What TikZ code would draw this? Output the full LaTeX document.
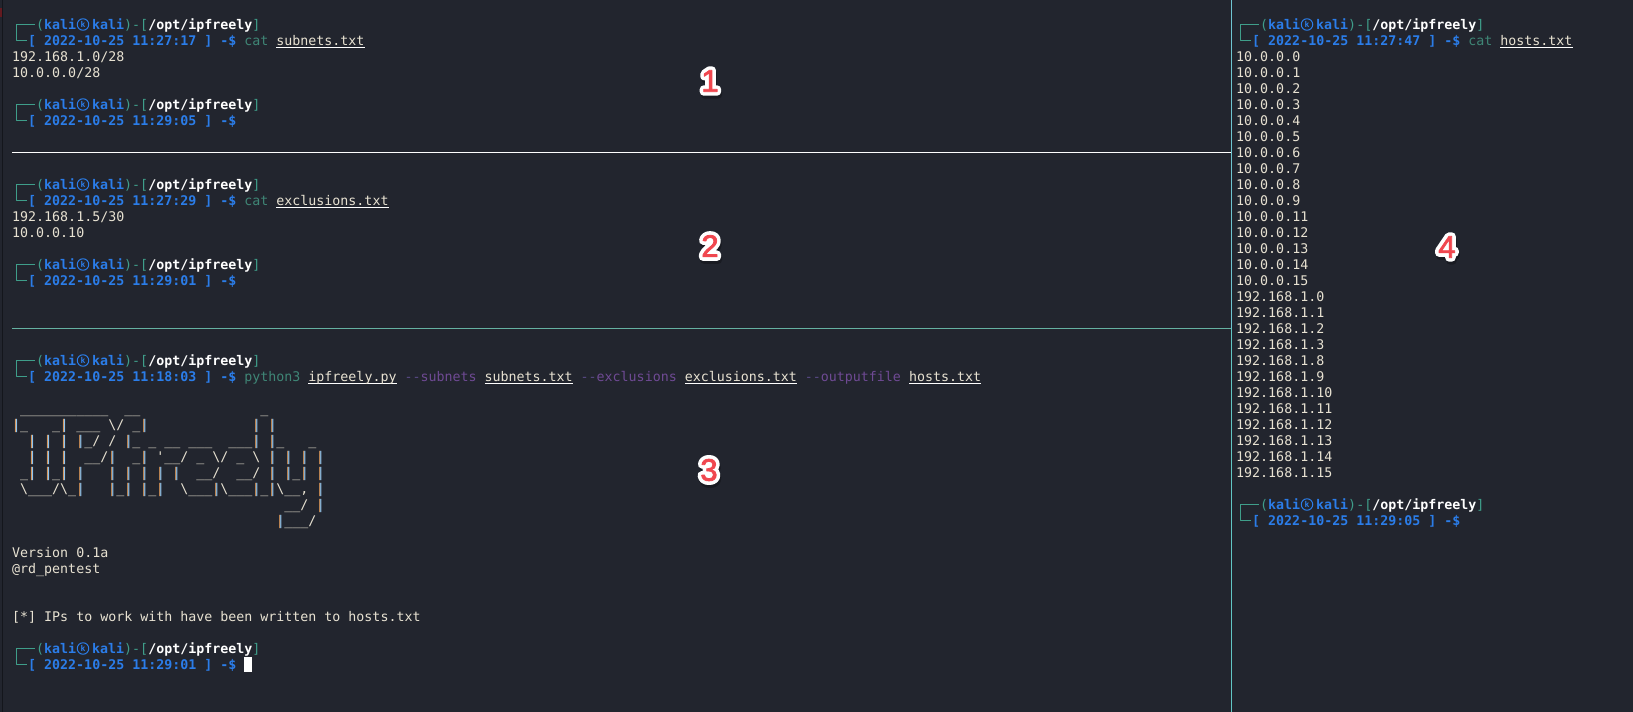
\documentclass[tikz,border=0pt]{standalone}
\usepackage{fontspec}
\setmonofont{DejaVu Sans Mono}
\setmainfont{Liberation Sans}
\newfontfamily\haloface[FakeBold=26]{Liberation Sans}
\newfontfamily\redface[FakeBold=2.5]{Liberation Sans}
\definecolor{termbg}{HTML}{22252E}
\definecolor{termtxt}{HTML}{E8E2D2}
\definecolor{promptteal}{HTML}{3F9E8A}
\definecolor{promptblue}{HTML}{2B7DE9}
\definecolor{cmdgreen}{HTML}{3F8676}
\definecolor{optpurple}{HTML}{6F4A94}
\definecolor{optdash}{HTML}{5A4A88}
\definecolor{pipeorange}{HTML}{D9975A}
\definecolor{pipeblue}{HTML}{8FC4EE}
\definecolor{paneteal}{HTML}{62C6C4}
\definecolor{markred}{HTML}{F0474F}
% underlined file name
\newcommand\fname[1]{\setbox0\hbox{#1}\rlap{\color{white}\rule[-2pt]{\wd0}{1pt}}\box0\relax}
\newcommand\opt[1]{{\color{optdash}--}{\color{optpurple}#1}}
\newcommand\cmd[1]{{\color{cmdgreen}#1}}
\newcommand\pp{\rlap{\hspace{-.5pt}\color{pipeorange}|}\rlap{\hspace{.5pt}\color{pipeblue}|}\phantom{|}}
\newcommand\bs{\textbackslash}
% id, x, row, time, rest of the command line
\newcommand\termprompt[5]{%
\begin{scope}[shift={(#2,{25+16*#3})}]
\draw[promptline] (23,-1)--(4,-1)--(4,15)--(15,15);
\node[termline] (#1u) at (24,4.5) {\color{promptteal}(\color{promptblue}\bfseries kali};
\node[termmark] (#1m) at (71,-.5) {k};
\node[termline] (#1h) at (80,4.5) {\bfseries\color{promptblue}kali\mdseries\color{promptteal})-[\bfseries\color{white}/opt/ipfreely\mdseries\color{promptteal}]};
\node[termline] (#1t) at (16,20.5) {{\bfseries\color{promptblue}[ #4 ] -\$} #5};
\end{scope}}
\begin{document}
\begin{tikzpicture}[x=1pt, y=-1pt, line join=round, line cap=butt,
termline/.style={anchor=base west, inner sep=0pt, text=termtxt, font=\ttfamily\fontsize{13.3}{16}\selectfont},
termmark/.style={circle, draw=promptblue, line width=1pt, inner sep=0pt, minimum size=11.5pt, text=promptblue, font=\ttfamily\bfseries\fontsize{8}{8}\selectfont},
promptline/.style={draw=promptteal, line width=1pt},
numhalo/.style={text=white, font=\haloface\fontsize{31}{31}\selectfont},
numshade/.style={text=black, opacity=.25, font=\haloface\fontsize{31}{31}\selectfont},
numred/.style={text=markred, font=\redface\fontsize{31}{31}\selectfont}]
\useasboundingbox (0,0) rectangle (1633,712);
\fill[termbg] (0,0) rectangle (1633,712);
\fill[black!40!termbg] (2,0) rectangle (3,712);
\fill[red!30!termbg] (0,8) rectangle (2,17);
% panes
\draw[white, line width=1pt] (12,152)--(1231,152);
\draw[promptteal!80!white, line width=1pt] (12,328)--(1231,328);
\draw[pipeorange, line width=.5pt] (1230.9,0)--(1230.9,328);
\draw[paneteal!70!pipeblue, line width=1.2pt] (1231.7,0)--(1231.7,328);
\draw[promptteal, line width=.7pt] (1231,328)--(1231,712);
\draw[paneteal, line width=1pt] (1231.8,328)--(1231.8,712);
% pane 1
\termprompt{a}{12}{0}{2022-10-25 11:27:17}{\cmd{cat} \fname{subnets.txt}}
\node[termline] (subA) at (12,61.5) {192.168.1.0/28};
\node[termline] (subB) at (12,77.5) {10.0.0.0/28};
\termprompt{b}{12}{5}{2022-10-25 11:29:05}{}
% pane 2
\termprompt{c}{12}{10}{2022-10-25 11:27:29}{\cmd{cat} \fname{exclusions.txt}}
\node[termline] (excA) at (12,221.5) {192.168.1.5/30};
\node[termline] (excB) at (12,237.5) {10.0.0.10};
\termprompt{d}{12}{15}{2022-10-25 11:29:01}{}
% pane 3
\termprompt{e}{12}{21}{2022-10-25 11:18:03}{\cmd{python3} \fname{ipfreely.py} \opt{subnets} \fname{subnets.txt} \opt{exclusions} \fname{exclusions.txt} \opt{outputfile} \fname{hosts.txt}}
\node[termline] (artA) at (12,413.5) {~\_\_\_\_\_\_\_\_\_\_\_~~\_\_~~~~~~~~~~~~~~~\_};
\node[termline] (artB) at (12,429.5) {\pp\_~~~\_\pp~\_\_\_~\bs/~\_\pp~~~~~~~~~~~~~\pp~\pp};
\node[termline] (artC) at (12,445.5) {~~\pp~\pp~\pp~\pp\_/~/~\pp\_~\_~\_\_~\_\_\_~~\_\_\_\pp~\pp\_~~~\_};
\node[termline] (artD) at (12,461.5) {~~\pp~\pp~\pp~~\_\_/\pp~~\_\pp~'\_\_/~\_~\bs/~\_~\bs~\pp~\pp~\pp~\pp};
\node[termline] (artE) at (12,477.5) {~\_\pp~\pp\_\pp~\pp~~~\pp~\pp~\pp~\pp~\pp~~\_\_/~~\_\_/~\pp~\pp\_\pp~\pp};
\node[termline] (artF) at (12,493.5) {~\bs\_\_\_/\bs\_\pp~~~\pp\_\pp~\pp\_\pp~~\bs\_\_\_\pp\bs\_\_\_\pp\_\pp\bs\_\_,~\pp};
\node[termline] (artG) at (12,509.5) {~~~~~~~~~~~~~~~~~~~~~~~~~~~~~~~~~~\_\_/~\pp};
\node[termline] (artH) at (12,525.5) {~~~~~~~~~~~~~~~~~~~~~~~~~~~~~~~~~\pp\_\_\_/};
\node[termline] (verA) at (12,557.5) {Version 0.1a};
\node[termline] (verB) at (12,573.5) {@rd\_pentest};
\node[termline] (done) at (12,621.5) {[*] IPs to work with have been written to hosts.txt};
\termprompt{f}{12}{39}{2022-10-25 11:29:01}{}
\node[fill=white, inner sep=0pt, minimum width=8pt, minimum height=15pt, anchor=north west] (cursor) at (244,657) {};
% pane 4
\termprompt{g}{1236}{0}{2022-10-25 11:27:47}{\cmd{cat} \fname{hosts.txt}}
\foreach \ip [count=\n from 2] in {10.0.0.0,10.0.0.1,10.0.0.2,10.0.0.3,10.0.0.4,10.0.0.5,10.0.0.6,10.0.0.7,10.0.0.8,10.0.0.9,10.0.0.11,10.0.0.12,10.0.0.13,10.0.0.14,10.0.0.15,192.168.1.0,192.168.1.1,192.168.1.2,192.168.1.3,192.168.1.8,192.168.1.9,192.168.1.10,192.168.1.11,192.168.1.12,192.168.1.13,192.168.1.14,192.168.1.15}{
\node[termline] (host\n) at (1236,{29.5+16*\n}) {\ip};}
\termprompt{h}{1236}{30}{2022-10-25 11:29:05}{}
% numbers
\foreach \t/\x/\y in {1/710/81,2/710/246,3/709/470,4/1447/247}{
\node[numshade] (shade\t) at (\x+1,\y+3) {\t};
\node[numhalo] (halo\t) at (\x,\y) {\t};
\node[numred] (num\t) at (\x,\y) {\t};}
\end{tikzpicture}
\end{document}
